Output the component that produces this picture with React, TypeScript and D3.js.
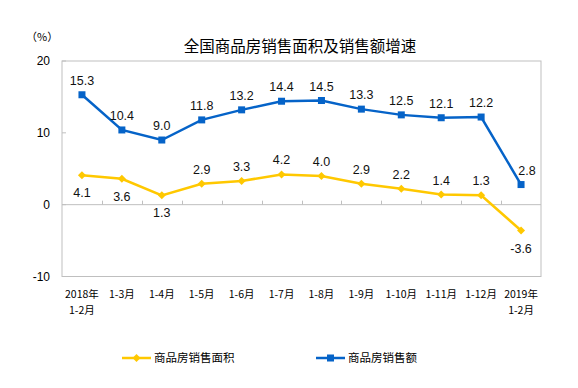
import * as d3 from "d3";

const categories = [
  ["2018年", "1-2月"],
  ["1-3月"],
  ["1-4月"],
  ["1-5月"],
  ["1-6月"],
  ["1-7月"],
  ["1-8月"],
  ["1-9月"],
  ["1-10月"],
  ["1-11月"],
  ["1-12月"],
  ["2019年", "1-2月"],
];
const areaGrowth = [4.1, 3.6, 1.3, 2.9, 3.3, 4.2, 4.0, 2.9, 2.2, 1.4, 1.3, -3.6];
const salesGrowth = [15.3, 10.4, 9.0, 11.8, 13.2, 14.4, 14.5, 13.3, 12.5, 12.1, 12.2, 2.8];
// label below the point (true) or above (false) for the area series
const areaLabelBelow = [true, true, true, false, false, false, false, false, false, false, false, true];
const yTicks = [-10, 0, 10, 20];

const YELLOW = "#FFC800";
const BLUE = "#0563C8";
const GRID = "#BFBFBF";
const NUM_FONT = "'Liberation Sans', Arial, sans-serif";
const CJK_FONT = "'Noto Sans CJK SC', sans-serif";

export default function App() {
  const left = 62;
  const right = 541;
  const top = 61;
  const bottom = 276.5;

  const x = d3
    .scaleBand<number>()
    .domain(categories.map((_, i) => i))
    .range([left, right]);
  const cx = (i: number) => (x(i) ?? 0) + x.bandwidth() / 2;
  const y = d3.scaleLinear().domain([-10, 20]).range([bottom, top]);

  const line = d3
    .line<number>()
    .x((_, i) => cx(i))
    .y((d) => y(d));

  const diamond = (px: number, py: number, r = 4) =>
    `M${px},${py - r}L${px + r},${py}L${px},${py + r}L${px - r},${py}Z`;

  const last = salesGrowth.length - 1;

  return (
    <svg
      width={578}
      height={388}
      style={{ position: "absolute", left: 0, top: 0, background: "#fff" }}
    >
      <text x={26} y={41} fontFamily={CJK_FONT} fontSize={11} fill="#000">
        （%）
      </text>
      <text
        x={300}
        y={52}
        textAnchor="middle"
        fontFamily={CJK_FONT}
        fontSize={15.5}
        fill="#000"
      >
        全国商品房销售面积及销售额增速
      </text>

      {/* plot frame */}
      <rect
        x={left}
        y={top}
        width={right - left}
        height={bottom - top}
        fill="none"
        stroke={GRID}
        strokeWidth={1}
      />
      {/* zero line */}
      <line x1={left} x2={right} y1={y(0)} y2={y(0)} stroke={GRID} strokeWidth={1} />
      {categories.slice(1).map((_, i) => {
        const tx = Math.round(x(i + 1) ?? 0) + 0.5;
        return (
          <line key={i} x1={tx} x2={tx} y1={y(0)} y2={y(0) - 4} stroke={GRID} />
        );
      })}
      {yTicks.map((t) => (
        <g key={t}>
          <line x1={left} x2={left + 4} y1={y(t)} y2={y(t)} stroke={GRID} />
          <text
            x={50}
            y={y(t) + 4}
            textAnchor="end"
            fontFamily={NUM_FONT}
            fontSize={12}
            fill="#000"
          >
            {t}
          </text>
        </g>
      ))}

      {categories.map((c, i) => (
        <text
          key={i}
          x={cx(i)}
          y={298}
          textAnchor="middle"
          fontFamily={CJK_FONT}
          fontSize={10.5}
          fill="#000"
        >
          {c.map((s, j) => (
            <tspan key={j} x={cx(i)} dy={j === 0 ? 0 : 16}>
              {s}
            </tspan>
          ))}
        </text>
      ))}

      {/* sales series */}
      <path d={line(salesGrowth) ?? ""} fill="none" stroke={BLUE} strokeWidth={2.5} />
      {salesGrowth.map((v, i) => (
        <g key={i}>
          <rect x={cx(i) - 3.5} y={y(v) - 3.5} width={7} height={7} fill={BLUE} />
          <text
            x={cx(i) + (i === last ? 6 : 0)}
            y={y(v) - 10}
            textAnchor="middle"
            fontFamily={NUM_FONT}
            fontSize={12.5}
            fill="#111"
          >
            {v.toFixed(1)}
          </text>
        </g>
      ))}

      {/* area series */}
      <path d={line(areaGrowth) ?? ""} fill="none" stroke={YELLOW} strokeWidth={2.5} />
      {areaGrowth.map((v, i) => (
        <g key={i}>
          <path d={diamond(cx(i), y(v))} fill={YELLOW} />
          <text
            x={cx(i)}
            y={areaLabelBelow[i] ? y(v) + 22 : y(v) - 10}
            textAnchor="middle"
            fontFamily={NUM_FONT}
            fontSize={12.5}
            fill="#111"
          >
            {v.toFixed(1)}
          </text>
        </g>
      ))}

      {/* legend */}
      <line x1={122} x2={151} y1={358} y2={358} stroke={YELLOW} strokeWidth={2.5} />
      <path d={diamond(136.5, 358)} fill={YELLOW} />
      <text x={154} y={362} fontFamily={CJK_FONT} fontSize={11.5} fill="#000">
        商品房销售面积
      </text>
      <line x1={316} x2={345} y1={358} y2={358} stroke={BLUE} strokeWidth={2.5} />
      <rect x={327} y={354.5} width={7} height={7} fill={BLUE} />
      <text x={348} y={362} fontFamily={CJK_FONT} fontSize={11.5} fill="#000">
        商品房销售额
      </text>
    </svg>
  );
}
